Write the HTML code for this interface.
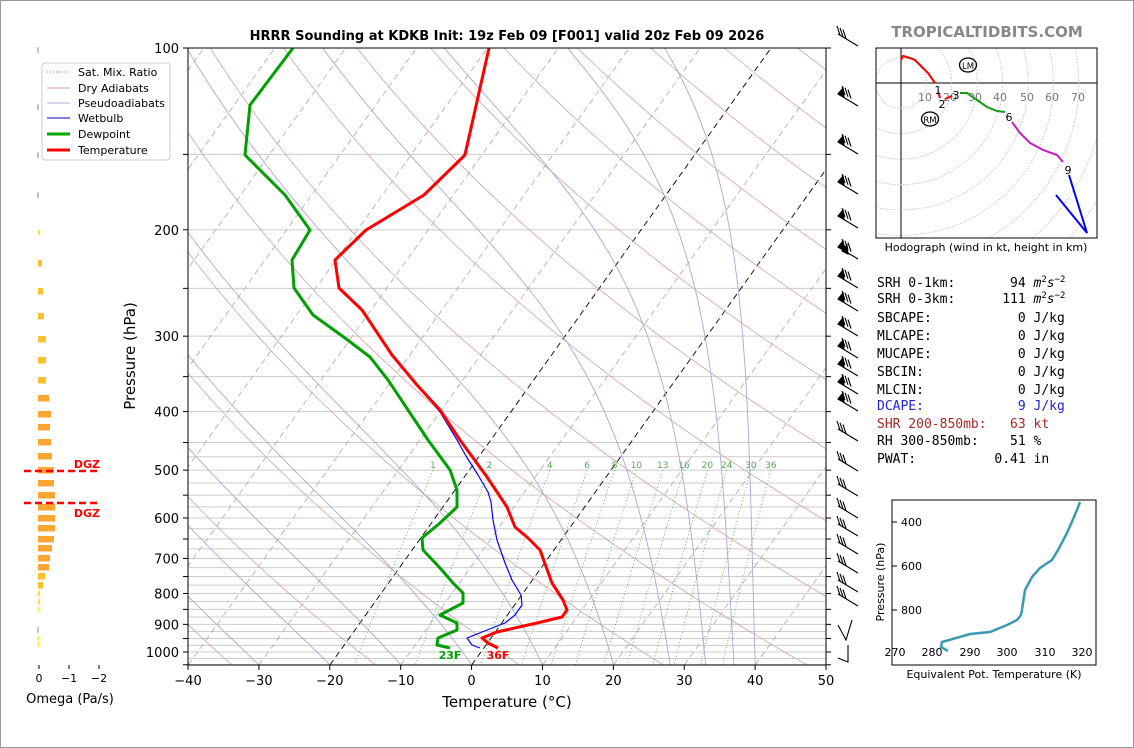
<!DOCTYPE html>
<html><head><meta charset="utf-8"><style>
html,body{margin:0;padding:0;background:#fff}
svg{display:block;font-family:"DejaVu Sans","Liberation Sans",sans-serif}
.mono text{white-space:pre}
</style></head><body>
<svg id="s" width="1134" height="748" viewBox="0 0 1134 748" xmlns="http://www.w3.org/2000/svg">
<rect x="0.5" y="0.5" width="1133" height="747" fill="#fff" stroke="#999"/>
<defs><clipPath id="pc"><rect x="188" y="48" width="638" height="617"/></clipPath>
<clipPath id="hc"><rect x="876" y="48" width="221" height="190"/></clipPath></defs>
<g id="bg" clip-path="url(#pc)"></g>
<g id="prof" clip-path="url(#pc)" fill="none" stroke-linejoin="round">
<polyline stroke="#0000ff" stroke-width="1.2" points="489,48 464,155 423,195 366,230 335,260 339,288 362,310 392,355 417,385 440,412 457,440 466,456 478,475 488,492 491,502 493,520 497,540 505,563 512,580 521,595 522,605 515,615 505,623 482,632 467,638 472,645 480,648"/>
<polyline stroke="#00a000" stroke-width="3" points="293,48 250,105 245,155 285,195 310,230 292,260 294,288 313,315 345,338 370,357 388,380 408,410 428,440 450,470 457,490 457,507 440,523 422,538 423,550 440,568 453,583 463,593 463,603 440,615 457,623 457,630 438,638 437,645 450,648"/>
<polyline stroke="#ff0000" stroke-width="3" points="489,48 465,155 424,195 366,230 335,260 339,288 362,310 392,355 417,385 440,410 460,440 487,477 507,507 515,527 528,538 540,550 552,583 563,600 567,610 562,617 537,623 497,632 482,638 488,643 498,648"/>
</g>
<text x="450" y="659" fill="#00a000" font-size="11" font-weight="bold" text-anchor="middle">23F</text>
<text x="498" y="659" fill="#ff0000" font-size="11" font-weight="bold" text-anchor="middle">36F</text>
<rect x="188" y="48" width="638" height="617" fill="none" stroke="#000" stroke-width="1"/>
<g id="ax" font-size="13" fill="#000"></g>
<text x="507" y="40" font-size="13" font-weight="bold" text-anchor="middle">HRRR Sounding at KDKB Init: 19z Feb 09 [F001] valid 20z Feb 09 2026</text>
<text x="987" y="37" font-size="15" font-weight="bold" fill="#888" text-anchor="middle">TROPICALTIDBITS.COM</text>
<text x="507" y="707" font-size="15" text-anchor="middle">Temperature (°C)</text>
<text x="135" y="356" font-size="15" text-anchor="middle" transform="rotate(-90 135 356)">Pressure (hPa)</text>
<g font-size="11">
<rect x="42" y="63" width="128" height="97" rx="3" fill="#fff" stroke="#ccc"/>
<line x1="47" y1="72" x2="70" y2="72" stroke="#4a4" stroke-dasharray="1,2"/><text x="78" y="76">Sat. Mix. Ratio</text>
<line x1="47" y1="88" x2="70" y2="88" stroke="#d9a0a0"/><text x="78" y="92">Dry Adiabats</text>
<line x1="47" y1="103" x2="70" y2="103" stroke="#aac"/><text x="78" y="107">Pseudoadiabats</text>
<line x1="47" y1="118" x2="70" y2="118" stroke="#00c"/><text x="78" y="122">Wetbulb</text>
<line x1="47" y1="134" x2="70" y2="134" stroke="#0a0" stroke-width="3"/><text x="78" y="138">Dewpoint</text>
<line x1="47" y1="150" x2="70" y2="150" stroke="#f00" stroke-width="3"/><text x="78" y="154">Temperature</text>
</g>
<g id="om"></g>
<line x1="24" y1="471" x2="100" y2="471" stroke="#f00" stroke-width="2.5" stroke-dasharray="7,4"/>
<line x1="24" y1="503" x2="100" y2="503" stroke="#f00" stroke-width="2.5" stroke-dasharray="7,4"/>
<text x="100" y="468" fill="#f00" font-size="11" font-weight="bold" text-anchor="end">DGZ</text>
<text x="100" y="517" fill="#f00" font-size="11" font-weight="bold" text-anchor="end">DGZ</text>
<g font-size="11" text-anchor="middle"><line x1="39" y1="665" x2="39" y2="669" stroke="#000"/><line x1="69" y1="665" x2="69" y2="669" stroke="#000"/><line x1="99" y1="665" x2="99" y2="669" stroke="#000"/>
<text x="39" y="682">0</text><text x="69" y="682">−1</text><text x="99" y="682">−2</text></g>
<text x="70" y="703" font-size="13" text-anchor="middle">Omega (Pa/s)</text>
<g id="wb" stroke="#000" stroke-width="1.1" fill="#000"></g>
<g clip-path="url(#hc)" id="hod"></g>
<rect x="876" y="48" width="221" height="190" fill="none" stroke="#000"/>
<g font-size="11" fill="#777" text-anchor="middle"><text x="925" y="101">10</text><text x="950" y="101">20</text><text x="975" y="101">30</text><text x="1000" y="101">40</text><text x="1027" y="101">50</text><text x="1052" y="101">60</text><text x="1078" y="101">70</text></g>
<g fill="none" stroke-width="2" clip-path="url(#hc)">
<polyline stroke="#f00" points="901,60 903,56 910,58 915,60 920,65 928,73 935,83"/>
<polyline stroke="#f00" points="938,92 940,98"/><polyline stroke="#f00" points="945,99 952,96"/>
<polyline stroke="#1a9a1a" points="960,93 967,93 977,100 987,107 997,111 1005,112"/>
<polyline stroke="#c020c0" points="1012,122 1020,133 1030,143 1043,150 1057,155 1063,162"/>
<polyline stroke="#0000ff" points="1069,175 1087,233 1056,195"/>
</g>
<g font-size="11" text-anchor="middle"><text x="938" y="94">1</text><text x="942" y="108">2</text><text x="956" y="99">3</text><text x="1009" y="121">6</text><text x="1068" y="174">9</text></g>
<ellipse cx="968" cy="65" rx="8.5" ry="7" fill="none" stroke="#000" stroke-width="1.3"/><text x="968" y="69" font-size="8.5" text-anchor="middle">LM</text>
<ellipse cx="930" cy="119" rx="8.5" ry="7" fill="none" stroke="#000" stroke-width="1.3"/><text x="930" y="123" font-size="8.5" text-anchor="middle">RM</text>
<text x="986" y="251" font-size="11" text-anchor="middle">Hodograph (wind in kt, height in km)</text>
<g class="mono" font-family="'DejaVu Sans Mono','Liberation Mono',monospace" font-size="13">
<text x="877" y="287">SRH 0-1km:       94 <tspan font-style="italic">m</tspan><tspan font-size="9" dy="-5">2</tspan><tspan font-style="italic" dy="5">s</tspan><tspan font-size="9" dy="-5">−2</tspan></text>
<text x="877" y="303">SRH 0-3km:      111 <tspan font-style="italic">m</tspan><tspan font-size="9" dy="-5">2</tspan><tspan font-style="italic" dy="5">s</tspan><tspan font-size="9" dy="-5">−2</tspan></text>
<text x="877" y="322">SBCAPE:           0 J/kg</text>
<text x="877" y="340">MLCAPE:           0 J/kg</text>
<text x="877" y="358">MUCAPE:           0 J/kg</text>
<text x="877" y="376">SBCIN:            0 J/kg</text>
<text x="877" y="394">MLCIN:            0 J/kg</text>
<text x="877" y="410" fill="#2222dd">DCAPE:            9 J/kg</text>
<text x="877" y="428" fill="#a52a2a">SHR 200-850mb:   63 kt</text>
<text x="877" y="445">RH 300-850mb:    51 %</text>
<text x="877" y="463">PWAT:          0.41 in</text>
</g>
<rect x="892" y="500" width="204" height="165" fill="none" stroke="#000"/>
<polyline fill="none" stroke="#3a9ab0" stroke-width="2.5" points="1080,502 1077,510 1067,533 1058,550 1052,560 1040,568 1032,577 1025,590 1023,603 1022,610 1021,615 1017,620 1007,625 990,632 970,634 942,642 941,647 948,651"/>
<g font-size="11"><g text-anchor="end"><text x="922" y="526">400</text><text x="922" y="570">600</text><text x="922" y="614">800</text></g>
<line x1="892" y1="522" x2="897" y2="522" stroke="#000"/><line x1="892" y1="566" x2="897" y2="566" stroke="#000"/><line x1="892" y1="610" x2="897" y2="610" stroke="#000"/>
<g text-anchor="middle"><text x="895" y="656">270</text><text x="932" y="656">280</text><text x="970" y="656">290</text><text x="1007" y="656">300</text><text x="1045" y="656">310</text><text x="1082" y="656">320</text></g>
<text x="994" y="678" text-anchor="middle">Equivalent Pot. Temperature (K)</text>
<text x="884" y="582" text-anchor="middle" transform="rotate(-90 884 582)">Pressure (hPa)</text></g>
<script>
var NS="http://www.w3.org/2000/svg";
function el(p,t,a,txt){var e=document.createElementNS(NS,t);for(var k in a)e.setAttribute(k,a[k]);if(txt!=null)e.textContent=txt;p.appendChild(e);return e;}
function Y(p){return 48+604*Math.log10(p/100);}
function X(T,p){return 188+(T+40)*7.089+0.715*(665-Y(p));}
var bg=document.getElementById('bg');
var ps=[];for(var p=100;p<=450;p+=50)ps.push(p);for(p=475;p<=1050;p+=25)ps.push(p);
ps.forEach(function(p){el(bg,'line',{x1:188,x2:826,y1:Y(p),y2:Y(p),stroke:'#ccc','stroke-width':1});});
for(var T=-130;T<=50;T+=10){var blk=(T==0||T==-20);el(bg,'line',{x1:X(T,1050),y1:665,x2:X(T,1050)+0.715*617,y2:48,stroke:blk?'#000':'#aaa','stroke-width':blk?0.9:0.8,'stroke-dasharray':'6,4'});}
function poly(pts,st){el(bg,'polyline',Object.assign({points:pts.join(' '),fill:'none'},st));}
for(var th=216;th<=536;th+=20){var pts=[];for(p=100;p<=1050;p+=10){var Tk=th*Math.pow(p/1000,0.2857);pts.push(X(Tk-273.15,p).toFixed(1)+','+Y(p).toFixed(1));}poly(pts,{stroke:'#d9a0a0','stroke-width':0.8});}
function es(T){return 6.112*Math.exp(17.67*T/(T+243.5));}
function dTdp(T,p){var Tk=T+273.15,r=0.622*es(T)/(p-es(T));return (287*Tk+2.5e6*r)/(p*(1005+2.5e6*2.5e6*r*0.622/(287*Tk*Tk)));}
[-40,-30,-20,-10,0,10,20,28,33,37,40].forEach(function(T0){var arr=[];var T=T0;for(p=1050;p>=100;p-=2){arr.push([T,p]);T-=dTdp(T,p)*2;}
poly(arr.map(function(a){return X(a[0],a[1]).toFixed(1)+','+Y(a[1]).toFixed(1)}),{stroke:'#a8a8dc','stroke-width':0.9});});
[1,2,4,6,8,10,13,16,20,24,30,36].forEach(function(w){var pts=[];for(p=500;p<=1050;p+=10){var e=w*p/(622+w),l=Math.log(e/6.112),Td=243.5*l/(17.67-l);pts.push(X(Td,p).toFixed(1)+','+Y(p).toFixed(1));}
poly(pts,{stroke:'#4a4','stroke-width':0.8,'stroke-dasharray':'1,2.5'});var e=w*500/(622+w),l=Math.log(e/6.112),Td=243.5*l/(17.67-l);el(bg,'text',{x:X(Td,500),y:468,'font-size':9,fill:'#5a5','text-anchor':'middle'},w);});
var ax=document.getElementById('ax');
for(p=100;p<=1050;p+=50){var y=Y(p);el(ax,'line',{x1:183,x2:188,y1:y,y2:y,stroke:'#000'});el(ax,'line',{x1:826,x2:831,y1:y,y2:y,stroke:'#000'});if(p%100==0&&p<=1000)el(ax,'text',{x:179,y:y+5,'text-anchor':'end'},p);}
for(T=-40;T<=50;T+=10){var x=188+(T+40)*7.089;el(ax,'line',{x1:x,x2:x,y1:665,y2:670,stroke:'#000'});el(ax,'text',{x:x,y:685,'text-anchor':'middle'},(T<0?'−':'')+Math.abs(T));}
var om=document.getElementById('om');
[[230,2],[260,4],[288,5],[313,6],[336,8],[357,8],[377,8],[395,11],[411,13],[424,12],[439,13],[453,14],[467,16],[480,16],[492,17],[504,17],[515,17],[525,17],[536,16],[545,14],[555,12],[564,11],[573,7],[582,5],[591,2],[599,2],[607,1],[636,1],[642,1]].forEach(function(b){var w=b[1];el(om,'rect',{x:38,y:b[0],width:w,height:w>3?6.5:5,fill:w>9?'#f9a732':(w>3?'#fbc02d':'#fde02a')});});
[50,107,155,195,630].forEach(function(y){el(om,'line',{x1:38,x2:38,y1:y-3,y2:y+3,stroke:'#888'});});
var wb=document.getElementById('wb');
[[40,0],[100,1],[148,1],[188,1],[222,1],[253,2],[282,1],[305,1],[330,1],[352,1],[370,1],[388,1],[405,1],[435,0],[465,0],[490,0],[512,0],[530,0],[548,0],[567,0],[586,0],[600,0]].forEach(function(b){var y=b[0];el(wb,'line',{x1:838,y1:y-6,x2:858,y2:y+6,fill:'none'});
if(b[1]){el(wb,'polygon',{points:'838,'+(y-6)+' 843,'+(y-12)+' 844,'+(y-3)});if(b[1]>1)el(wb,'polygon',{points:'842,'+(y-2)+' 847,'+(y-8)+' 848,'+(y+1)});}
for(var i=0;i<3;i++){var bx=840+i*3+(b[1]?5:0),by=y-5+i*1.8;el(wb,'line',{x1:bx,y1:by,x2:bx-3,y2:by-9,fill:'none'});}});
el(wb,'polyline',{points:'838,625 846,640 852,620',fill:'none'});el(wb,'polyline',{points:'838,658 848,662 848,645',fill:'none'});
var hod=document.getElementById('hod');
el(hod,'line',{x1:876,x2:1097,y1:83,y2:83,stroke:'#000'});el(hod,'line',{x1:901,x2:901,y1:48,y2:238,stroke:'#000'});
for(var r=1;r<=10;r++)el(hod,'circle',{cx:901,cy:83,r:r*25.4,fill:'none',stroke:'#bbb','stroke-dasharray':'1.5,1.5','stroke-width':0.8});
</script>
</svg>
</body></html>
